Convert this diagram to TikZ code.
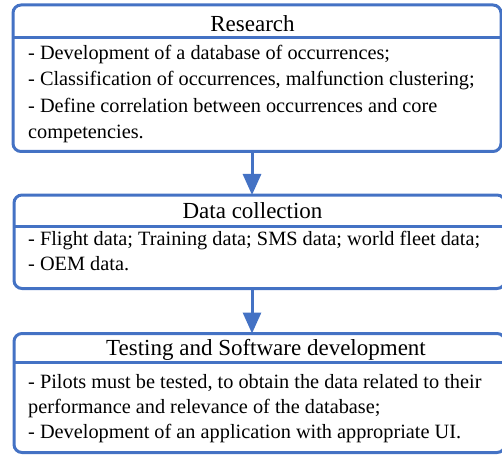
\documentclass[tikz,border=0pt]{standalone}
\usepackage{fontspec}
\setmainfont{Liberation Serif}
\usetikzlibrary{arrows.meta}
\definecolor{bblue}{RGB}{68,114,196}
\begin{document}
\begin{tikzpicture}[x=1pt,y=-1pt,
  box/.style={draw=bblue, line width=3pt, rounded corners=8pt, inner sep=0pt, outer sep=0pt},
  sepline/.style={draw=bblue, line width=3pt},
  head/.style={anchor=base, inner sep=0pt, font=\fontsize{23}{27}\selectfont},
  body/.style={anchor=base west, inner sep=0pt, font=\fontsize{20.3}{26}\selectfont},
  arr/.style={draw=bblue, line width=3pt, -{Triangle[width=18pt,length=21pt]}}]
\useasboundingbox (0,0) rectangle (502,454);
% boxes
\node[box, minimum width=488pt, minimum height=146.5pt] (b1) at (257,78.25) {};
\node[box, minimum width=491pt, minimum height=93.5pt] (b2) at (259.5,241.75) {};
\node[box, minimum width=491pt, minimum height=119pt] (b3) at (259.5,393) {};
% header separators
\coordinate (h1) at (0,38);
\coordinate (h2) at (0,226.5);
\coordinate (h3) at (0,362.5);
\draw[sepline] (b1.west |- h1) -- (b1.east |- h1);
\draw[sepline] (b2.west |- h2) -- (b2.east |- h2);
\draw[sepline] (b3.west |- h3) -- (b3.east |- h3);
% headers
\node[head] (t1) at (252.5,31.5) {Research};
\node[head] (t2) at (252.5,218) {Data collection};
\node[head] (t3) at (266,355.5) {Testing and Software development};
% body texts
\node[body] (l11) at (28,59.5) {- Development of a database of occurrences;};
\node[body] (l12) at (28,86) {- Classification of occurrences, malfunction clustering;};
\node[body] (l13) at (28,112.5) {- Define correlation between occurrences and core};
\node[body] (l14) at (28,138.5) {competencies.};
\node[body] (l21) at (28,245) {- Flight data; Training data; SMS data; world fleet data;};
\node[body] (l22) at (28,270) {- OEM data.};
\node[body] (l31) at (28,388) {- Pilots must be tested, to obtain the data related to their};
\node[body] (l32) at (28,413) {performance and relevance of the database;};
\node[body] (l33) at (28,438) {- Development of an application with appropriate UI.};
% arrows
\coordinate (ax) at (252,0);
\draw[arr] (b1.south -| ax) -- (b2.north -| ax);
\draw[arr] (b2.south -| ax) -- (b3.north -| ax);
\end{tikzpicture}
\end{document}
